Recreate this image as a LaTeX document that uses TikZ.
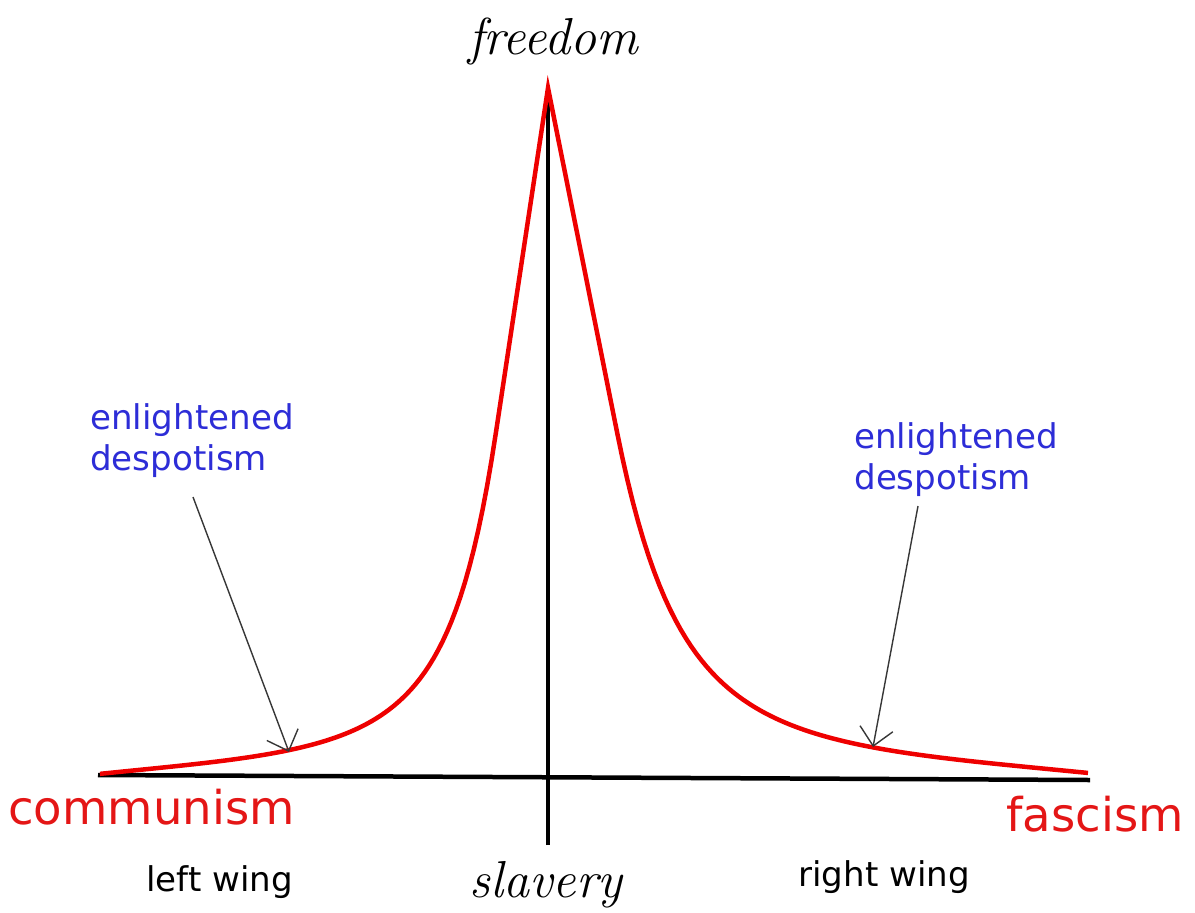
\documentclass[tikz,border=0pt]{standalone}
\definecolor{polred}{RGB}{238,0,0}
\definecolor{poltext}{RGB}{228,22,22}
\definecolor{polblue}{RGB}{45,45,215}
\definecolor{polgray}{RGB}{55,55,55}
\usepackage{fontspec}
\newfontfamily\handfont{DejaVu Sans}
\usepackage{tikz}
\usetikzlibrary{arrows.meta}

\begin{document}
\begin{tikzpicture}[x=0.02cm, y=-0.02cm,
    curve/.style={draw=polred, line width=0.09cm, line join=miter},
    axis/.style={draw=black, line width=0.09cm},
    pointer/.style={draw=polgray, line width=0.8pt, -{Straight Barb[length=10pt,width=19pt]}},
    despot/.style={text=polblue, font=\handfont\fontsize{19.4}{23.3}\selectfont,
                   align=left, inner sep=0pt, anchor=base west},
    wing/.style={font=\handfont\fontsize{19.4}{23.3}\selectfont, inner sep=0pt, anchor=base west},
    pole/.style={text=poltext, font=\handfont\fontsize{26.5}{30}\selectfont, inner sep=0pt, anchor=base west},
    extreme/.style={font=\itshape\fontsize{29.6}{34}\selectfont, inner sep=0pt, anchor=base}]
        \useasboundingbox (0,0) rectangle (1195,912);
        % axes
        \coordinate (left) at (98,775);
        \coordinate (right) at (1090,780);
        \coordinate (top) at (548,90);
        \coordinate (bottom) at (548,845);
        \draw[axis] (left) -- (right);
        \draw[axis] (bottom) -- (top);
        % the curve: straight flanks up to the peak, bell tails below
        \coordinate (peak) at (548,88);
        \draw[curve] plot[domain=448:52, samples=90]
              ({548-\x},{776-688/(1+(\x/52)^2)+7*(\x/448)^4})
          -- (peak)
          -- plot[domain=69:540, samples=90]
              ({548+\x},{776-688/(1+(\x/69)^2)+8*(\x/540)^4});
        % labels
        \node[extreme] (freedom) at (553,55) {freedom};
        \node[extreme] (slavery) at (546,897) {slavery};
        \node[pole] (communism) at (8,824) {communism};
        \node[pole] (fascism) at (1006,831) {fascism};
        \node[wing] (leftwing) at (146,891) {left wing};
        \node[wing] (rightwing) at (798,886) {right wing};
        \node[despot] (despL) at (90,470) {enlightened\\despotism};
        \node[despot] (despR) at (854,489) {enlightened\\despotism};
        % pointers
        \coordinate (footL) at (193,497);
        \coordinate (tipL) at (289,752);
        \coordinate (footR) at (918,506);
        \coordinate (tipR) at (873,747);
        \draw[pointer] (footL) -- (tipL);
        \draw[pointer] (footR) -- (tipR);
      \end{tikzpicture}
\end{document}
